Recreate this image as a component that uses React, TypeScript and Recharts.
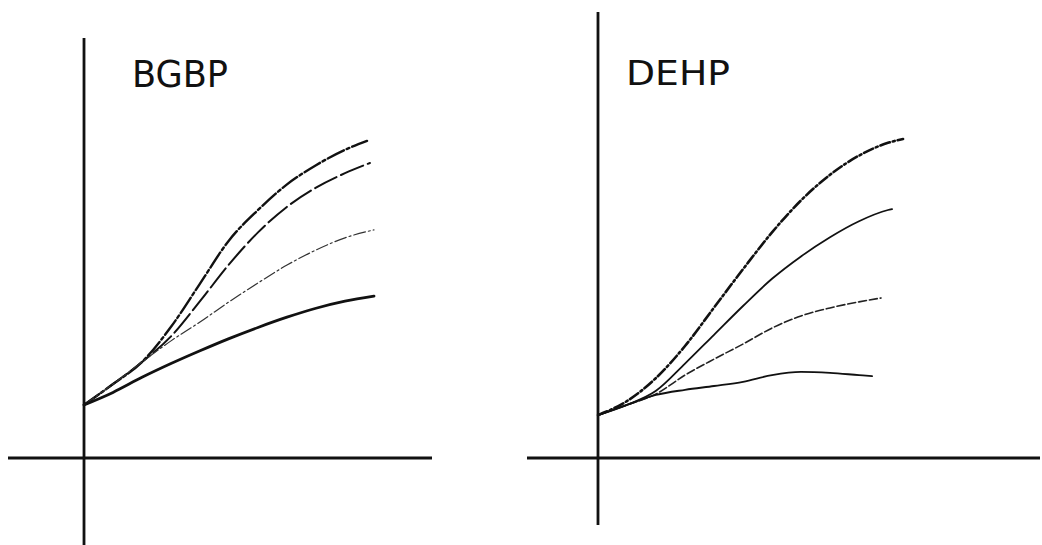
import React from "react";
import { LineChart, Line, XAxis, YAxis, ReferenceLine } from "recharts";

// ---- BGBP panel (left) ----
const bgbpTopX = [0, 1, 2, 3, 4, 5, 6, 7, 8, 9, 9.76];
const bgbpTopY = [1.66, 2.31, 3.0, 4.1, 5.45, 6.8, 7.75, 8.55, 9.15, 9.63, 9.91];
const bgbpSecondX = [0, 1, 2, 3, 4, 5, 6, 7, 8, 9, 9.86];
const bgbpSecondY = [1.66, 2.31, 3.0, 3.8, 4.9, 6.05, 7.05, 7.85, 8.45, 8.9, 9.22];
const bgbpThirdX = [0, 1, 2, 3, 4, 5, 6, 7, 8, 9, 10];
const bgbpThirdY = [1.66, 2.31, 3.0, 3.66, 4.25, 4.88, 5.47, 6.03, 6.5, 6.88, 7.13];
const bgbpBottomX = [0, 1, 2, 3, 4, 5, 6, 7, 8, 9, 10];
const bgbpBottomY = [1.66, 2.05, 2.52, 2.95, 3.35, 3.73, 4.08, 4.4, 4.68, 4.9, 5.06];

// ---- DEHP panel (right) ----
const dehpTopX = [0, 1, 2, 3, 4, 5, 6, 7, 8, 9, 10, 10.52];
const dehpTopY = [1.34, 1.78, 2.5, 3.5, 4.7, 5.9, 7.05, 8.05, 8.85, 9.45, 9.85, 9.97];
const dehpSecondX = [0, 1, 2, 3, 4, 5, 6, 7, 8, 9, 10, 10.14];
const dehpSecondY = [1.34, 1.66, 2.1, 2.95, 3.85, 4.75, 5.6, 6.3, 6.9, 7.4, 7.75, 7.78];
const dehpThirdX = [0, 1, 2, 3, 4, 5, 6, 7, 8, 9, 9.76];
const dehpThirdY = [1.34, 1.66, 2.0, 2.59, 3.09, 3.56, 4.06, 4.44, 4.69, 4.88, 5.0];
const dehpBottomX = [0, 1, 2, 3, 4, 5, 6, 7, 8, 9, 9.45];
const dehpBottomY = [1.34, 1.66, 1.97, 2.13, 2.25, 2.38, 2.59, 2.69, 2.66, 2.59, 2.56];

const panelTitles = ["BGBP", "DEHP"];

const toPoints = (xs: number[], ys: number[]) => xs.map((x, i) => ({ x, y: ys[i] }));

type SeriesSpec = { data: { x: number; y: number }[]; width: number; dash?: string; color: string };

const leftSeries: SeriesSpec[] = [
  { data: toPoints(bgbpTopX, bgbpTopY), width: 2.4, dash: "18 3 3 3", color: "#111" },
  { data: toPoints(bgbpSecondX, bgbpSecondY), width: 2, dash: "24 5", color: "#111" },
  { data: toPoints(bgbpThirdX, bgbpThirdY), width: 1.2, dash: "12 3 2 3", color: "#333" },
  { data: toPoints(bgbpBottomX, bgbpBottomY), width: 2.8, color: "#111" },
];

const rightSeries: SeriesSpec[] = [
  { data: toPoints(dehpTopX, dehpTopY), width: 2.6, dash: "10 3 2 3", color: "#111" },
  { data: toPoints(dehpSecondX, dehpSecondY), width: 1.8, color: "#111" },
  { data: toPoints(dehpThirdX, dehpThirdY), width: 1.6, dash: "8 3", color: "#222" },
  { data: toPoints(dehpBottomX, dehpBottomY), width: 1.8, color: "#111" },
];

function Panel(props: {
  left: number; top: number; width: number; height: number;
  xDomain: [number, number]; yDomain: [number, number]; series: SeriesSpec[];
}) {
  const { left, top, width, height, xDomain, yDomain, series } = props;
  return (
    <div style={{ position: "absolute", left, top, width, height }}>
      <LineChart width={width} height={height} margin={{ top: 0, right: 0, bottom: 0, left: 0 }}>
        <XAxis type="number" dataKey="x" domain={xDomain} allowDataOverflow hide />
        <YAxis type="number" dataKey="y" domain={yDomain} allowDataOverflow hide />
        <ReferenceLine x={0} stroke="#111" strokeWidth={2.8} />
        <ReferenceLine y={0} stroke="#111" strokeWidth={2.8} />
        {series.map((s, i) => (
          <Line
            key={i}
            data={s.data}
            dataKey="y"
            type="monotone"
            stroke={s.color}
            strokeWidth={s.width}
            strokeDasharray={s.dash}
            strokeLinecap="round"
            dot={false}
            activeDot={false}
            isAnimationActive={false}
          />
        ))}
      </LineChart>
    </div>
  );
}

export default function App() {
  return (
    <div style={{ position: "absolute", left: 0, top: 0, width: 1042, height: 545, background: "#fff", overflow: "hidden" }}>
      <Panel left={8} top={38} width={424} height={507} xDomain={[-2.621, 12.0]} yDomain={[-2.71875, 13.125]} series={leftSeries} />
      <Panel left={527} top={12} width={513} height={513} xDomain={[-2.448, 15.241]} yDomain={[-2.09375, 13.9375]} series={rightSeries} />
      <svg width={1042} height={545} style={{ position: "absolute", left: 0, top: 0, pointerEvents: "none" }}>
        <text x={132} y={87} fontFamily="DejaVu Sans" fontSize={38} fill="#111" textLength={96} lengthAdjust="spacingAndGlyphs">
          {panelTitles[0]}
        </text>
        <text x={626} y={85} fontFamily="DejaVu Sans" fontSize={33} fill="#111" textLength={104} lengthAdjust="spacingAndGlyphs">
          {panelTitles[1]}
        </text>
      </svg>
    </div>
  );
}
